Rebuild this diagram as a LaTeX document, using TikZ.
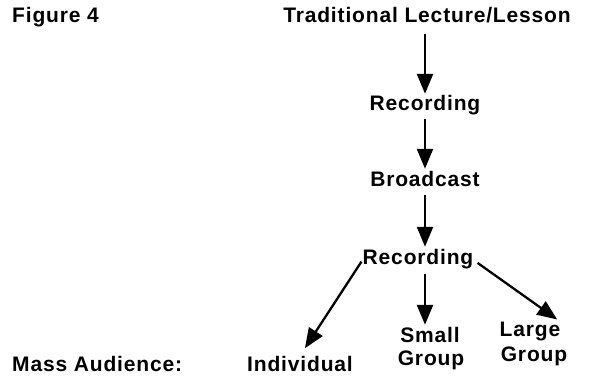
\documentclass[tikz,border=0pt]{standalone}
\usepackage{fontspec}
\setmainfont{Liberation Sans}
\usetikzlibrary{arrows.meta}
\begin{document}
\begin{tikzpicture}[x=1pt,y=-1pt,
  lbl/.style={inner sep=0pt, anchor=base, text height=15pt, text depth=5pt,
    font=\fontsize{21}{25}\selectfont\bfseries\addfontfeatures{LetterSpace=4}},
  arr/.style={line width=2.3pt, -{Triangle[width=16pt,length=20pt]}}]
  \useasboundingbox[fill=white] (0,0) rectangle (590,377);

  % labels
  \node[lbl, anchor=base west] (fig) at (12,23) {Figure 4};
  \node[lbl] (trad) at (427,23) {Traditional Lecture/Lesson};
  \node[lbl] (rec1) at (425,111) {Recording};
  \node[lbl] (bc) at (425,187) {Broadcast};
  \node[lbl] (rec2) at (418,265) {Recording};
  \node[lbl, anchor=base west] (mass) at (12,371) {Mass Audience:};
  \node[lbl] (indiv) at (300,371) {Individual};
  \node[lbl] (small) at (430,343) {Small};
  \node[lbl] (sgroup) at (431,366) {Group};
  \node[lbl] (large) at (530,337) {Large};
  \node[lbl] (lgroup) at (534,361) {Group};

  % chain of arrows
  \draw[arr, shorten <=6pt, shorten >=2pt] (trad.south -| rec1.north) -- (rec1.north);
  \draw[arr, shorten <=3pt, shorten >=3pt] (rec1.south) -- (bc.north -| rec1.south);
  \draw[arr, shorten <=3pt, shorten >=3pt] (bc.south -| rec1.south) -- (rec2.north -| rec1.south);

  % fan-out to the audiences
  \draw[arr, shorten <=2pt, shorten >=9pt] (rec2.west) -- (indiv.north);
  \draw[arr, shorten <=4pt, shorten >=3pt] (rec2.south -| rec1.south) -- (small.north -| rec1.south);
  \draw[arr, shorten <=5pt, shorten >=4pt] (rec2.east) -- (large.north east);
\end{tikzpicture}
\end{document}
